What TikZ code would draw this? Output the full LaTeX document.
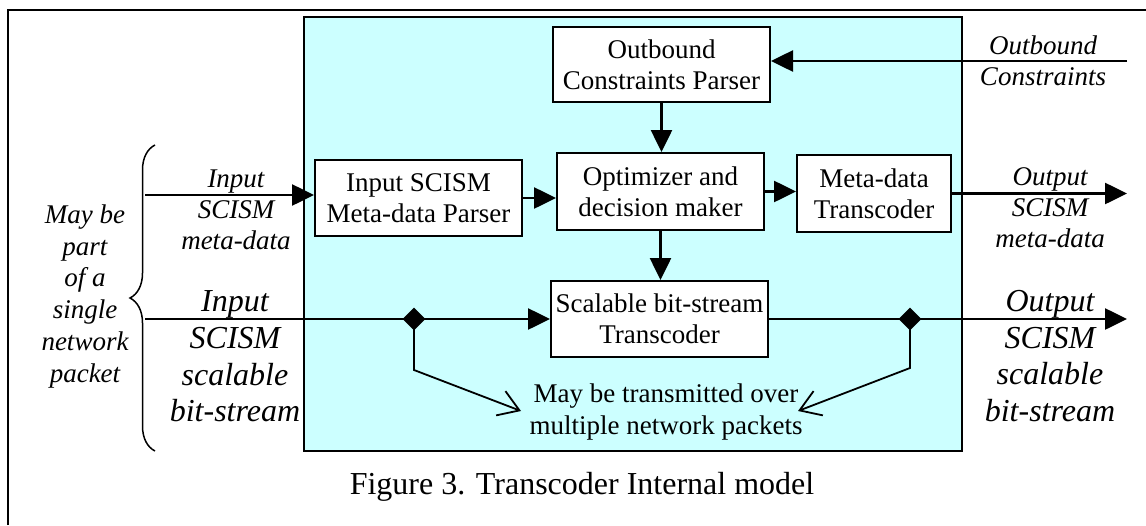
\documentclass[tikz,border=0pt]{standalone}
\usepackage{fontspec}
\setmainfont{Liberation Serif}
\usetikzlibrary{arrows.meta,positioning,calc,decorations.pathreplacing,shapes.geometric}
\definecolor{panelcyan}{RGB}{204,255,255}

\begin{document}
\begin{tikzpicture}[x=1pt,y=-1pt,
  blk/.style={draw,line width=2pt,fill=white,align=center,inner sep=0pt,font=\fontsize{27}{31}\selectfont},
  flow/.style={line width=2.6pt,-{Triangle[length=22pt,width=21pt]}},
  plain/.style={line width=2.6pt},
  barb/.style={line width=1.8pt,-{Straight Barb[length=20pt,width=26pt]}},
  lbl/.style={align=center,inner sep=0pt,font=\fontsize{27}{31}\selectfont\itshape},
  biglbl/.style={align=center,inner sep=0pt,font=\fontsize{32}{36.6}\selectfont\itshape},
  tap/.style={diamond,fill=black,inner sep=0pt,minimum size=23pt}]
  \useasboundingbox (0,0) rectangle (1146,525);
  \draw[line width=2.8pt] (8,525) -- (8,10) -- (1146,10);
  \draw[line width=1.8pt,fill=panelcyan] (304,17) rectangle (962,451);

  \node[blk,minimum width=217pt,minimum height=75pt] (ocp) at (661.5,64.5) {Outbound\\Constraints Parser};
  \node[blk,minimum width=207pt,minimum height=77pt] (opt) at (660.5,191.5) {Optimizer and\\decision maker};
  \node[blk,minimum width=207pt,minimum height=76pt] (inp) at (418.5,198) {Input SCISM\\Meta-data Parser};
  \node[blk,minimum width=154pt,minimum height=77pt] (mdt) at (874,193.5) {Meta-data\\Transcoder};
  \node[blk,minimum width=217pt,minimum height=76pt] (sbt) at (659.5,319) {Scalable bit-stream\\Transcoder};

  \coordinate (outcons) at (1127,61);
  \coordinate (inmeta) at (145,195);
  \coordinate (outmeta) at (1127,193.5);
  \coordinate (instream) at (145,319);
  \coordinate (outstream) at (1127,319);
  \node[tap] (tapin) at (414,319) {};
  \node[tap] (tapout) at (910,319) {};
  \coordinate (bendin) at (414,370);
  \coordinate (bendout) at (910,368);
  \coordinate (tipin) at (521,411);
  \coordinate (tipout) at (798,411);

  \draw[flow] (outcons) -- (outcons -| ocp.east);
  \draw[flow] (ocp.south) -- (ocp.south |- opt.north);
  \draw[flow] (inmeta) -- (inmeta -| inp.west);
  \draw[flow] (inp.east) -- (inp.east -| opt.west);
  \draw[flow] (opt.east) -- (opt.east -| mdt.west);
  \draw[flow] (mdt.east) -- (outmeta);
  \draw[flow] (opt.south) -- (opt.south |- sbt.north);
  \draw[plain] (instream) -- (tapin.center);
  \draw[flow] (tapin.center) -- (sbt.west);
  \draw[plain] (sbt.east) -- (tapout.center);
  \draw[flow] (tapout.center) -- (outstream);
  \draw[barb] (tapin.center) -- (bendin) -- (tipin);
  \draw[barb] (tapout.center) -- (bendout) -- (tipout);

  \node[lbl] (outconslbl) at (1043,61) {Outbound\\Constraints};
  \node[lbl] (inmetalbl) at (236,210) {Input\\SCISM\\meta-data};
  \node[lbl] (outmetalbl) at (1050,208) {Output\\SCISM\\meta-data};
  \node[biglbl] (instreamlbl) at (235,356.5) {Input\\SCISM\\scalable\\bit-stream};
  \node[biglbl] (outstreamlbl) at (1050,356) {Output\\SCISM\\scalable\\bit-stream};
  \node[lbl,font=\fontsize{27}{31.8}\selectfont\itshape] (packetlbl) at (85,296.3) {May be\\part\\of a\\single\\network\\packet};
  \node[align=center,inner sep=0pt,font=\fontsize{27}{32}\selectfont] (multilbl) at (666,412) {May be transmitted over\\multiple network packets};
  \node[anchor=base,inner sep=0pt,font=\fontsize{32}{38}\selectfont] (caption) at (582,494) {Figure 3. Transcoder Internal model};

  \draw[line width=1.5pt,decorate,decoration={brace,amplitude=25pt}] (155,451) -- (155,145);
\end{tikzpicture}
\end{document}
